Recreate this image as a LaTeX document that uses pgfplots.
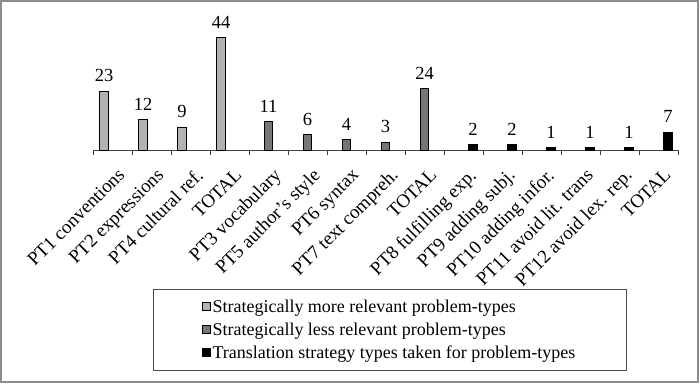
\documentclass[border=0pt]{standalone}
\usepackage{fontspec}
\setmainfont{Liberation Serif}
\usepackage{pgfplots}
\pgfplotsset{compat=1.18}
\definecolor{lightbar}{RGB}{178,178,178}
\definecolor{darkbar}{RGB}{118,118,118}
\definecolor{framecol}{RGB}{140,140,140}
\begin{document}
\begin{tikzpicture}
\useasboundingbox (0,0) rectangle (700pt,-385pt);
\draw[framecol, line width=1.5pt] (1pt,-1pt) rectangle (698pt,-382pt);
\begin{axis}[
  at={(93pt,-150pt)}, anchor=south west,
  x=39pt, y=2.56pt,
  xmin=0, xmax=15, ymin=0, ymax=50,
  ybar, bar width=8.5pt,
  clip=false,
  separate axis lines,
  axis x line*=bottom,
  axis y line=none,
  x axis line style={black!75, line width=0.8pt},
  xtick={0.5,1.5,...,14.5},
  xticklabels={PT1 conventions, PT2 expressions, PT4 cultural ref., TOTAL, PT3 vocabulary, PT5 author's style, PT6 syntax, PT7 text compreh., TOTAL, PT8 fulfilling exp., PT9 adding subj., PT10 adding infor., PT11 avoid lit. trans, PT12 avoid lex. rep., TOTAL},
  minor xtick={0,1,...,15},
  major tick length=0pt,
  minor tick length=5pt,
  tick align=outside,
  minor tick style={black!75, line width=0.8pt},
  ytick=\empty,
  xticklabel style={rotate=45, anchor=north east, font=\fontsize{19}{21}\selectfont, inner sep=2pt, xshift=-7pt, yshift=-13pt},
  /pgf/number format/assume math mode=true,
  nodes near coords,
  every node near coord/.append style={font=\fontsize{18.5}{20}\selectfont, yshift=5.5pt, black},
  every axis plot post/.append style={/pgfplots/legend image code/.code={\draw[##1, draw=black, line width=0.6pt] (0pt,-3.5pt) rectangle (8pt,4.5pt);}},
  legend style={at={(0.507,-1.406)}, anchor=center, draw=black!70, line width=0.8pt,
    font=\fontsize{18}{22}\selectfont, inner xsep=49pt, inner ysep=8pt, row sep=5pt},
  legend cell align=left,
]
\addplot[fill=lightbar, draw=black, line width=0.8pt, bar shift=-8.5pt] coordinates {(0.5,23) (1.5,12) (2.5,9) (3.5,44)};
\addlegendentry{Strategically more relevant problem-types}
\addplot[fill=darkbar, draw=black, line width=0.8pt, bar shift=0pt] coordinates {(4.5,11) (5.5,6) (6.5,4) (7.5,3) (8.5,24)};
\addlegendentry{Strategically less relevant problem-types}
\addplot[fill=black, draw=black, line width=0.8pt, bar shift=9.5pt] coordinates {(9.5,2) (10.5,2) (11.5,1) (12.5,1) (13.5,1) (14.5,7)};
\addlegendentry{Translation strategy types taken for problem-types}
\end{axis}
\end{tikzpicture}
\end{document}
